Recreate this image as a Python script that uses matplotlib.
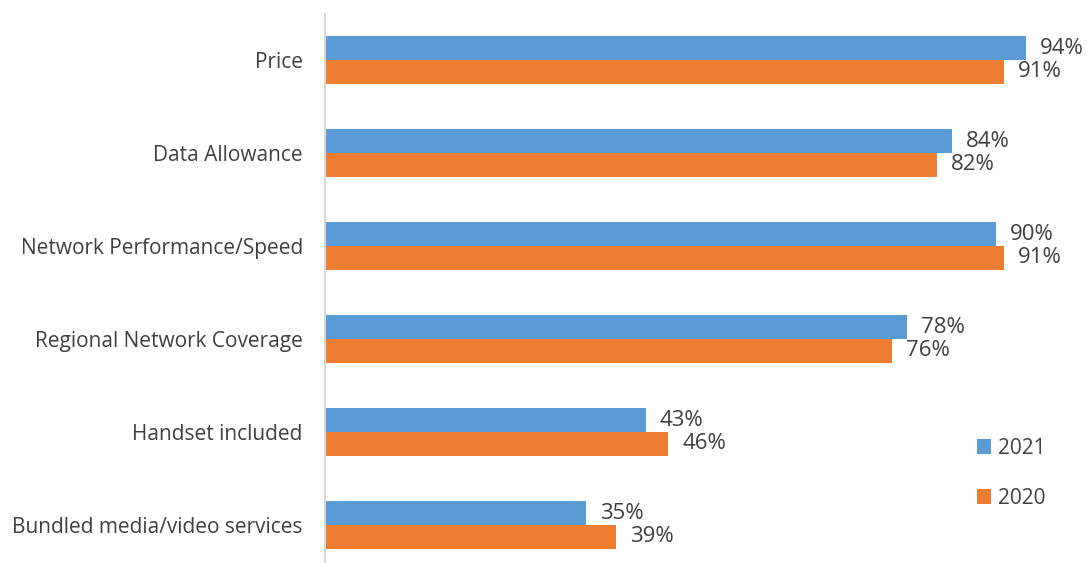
import matplotlib
matplotlib.use("Agg")
import matplotlib.pyplot as plt
import numpy as np

categories = ["Price", "Data Allowance", "Network Performance/Speed",
              "Regional Network Coverage", "Handset included",
              "Bundled media/video services"]
values_2021 = [94, 84, 90, 78, 43, 35]
values_2020 = [91, 82, 91, 76, 46, 39]
series_names = ["2021", "2020"]
colors = ["#5B9BD5", "#ED7D31"]
text_color = "#404040"

W, H = 1089, 563
fig = plt.figure(figsize=(W / 100, H / 100), dpi=100)
plt.rcParams['font.family'] = ['Open Sans', 'DejaVu Sans']

left_px, right_px = 325, 1071
top_px, bot_px = 13.5, 571.5
ax = fig.add_axes([left_px / W, (H - bot_px) / H, (right_px - left_px) / W, (bot_px - top_px) / H])

y = np.arange(len(categories))
bh = 0.258
b1 = ax.barh(y - bh / 2, values_2021, height=bh, color=colors[0], label=series_names[0])
b2 = ax.barh(y + bh / 2, values_2020, height=bh, color=colors[1], label=series_names[1])

for bars, vals in ((b1, values_2021), (b2, values_2020)):
    for rect, v in zip(bars, vals):
        ax.annotate(f"{v}%", (rect.get_width(), rect.get_y() + rect.get_height() / 2),
                    xytext=(10, 0), textcoords="offset points", va="center", ha="left",
                    fontsize=16, color=text_color)

ax.set_xlim(0, 100)
ax.set_ylim(len(categories) - 0.5, -0.5)
ax.set_yticks(y)
ax.set_yticklabels(categories, fontsize=15, color=text_color)
ax.tick_params(axis="y", length=0, pad=16)
ax.set_xticks([])
for s in ("top", "right", "bottom"):
    ax.spines[s].set_visible(False)
ax.spines["left"].set_color("#D9D9D9")
ax.spines["left"].set_linewidth(1.5)

leg = fig.legend(handles=[b1, b2], labels=series_names, loc="upper left",
                 bbox_to_anchor=(958 / W, 1 - 419 / H), frameon=False,
                 fontsize=15, handlelength=0.7, handleheight=0.7,
                 handletextpad=0.3, labelspacing=1.4)
for t in leg.get_texts():
    t.set_color(text_color)

fig.savefig("out.png", dpi=100)
